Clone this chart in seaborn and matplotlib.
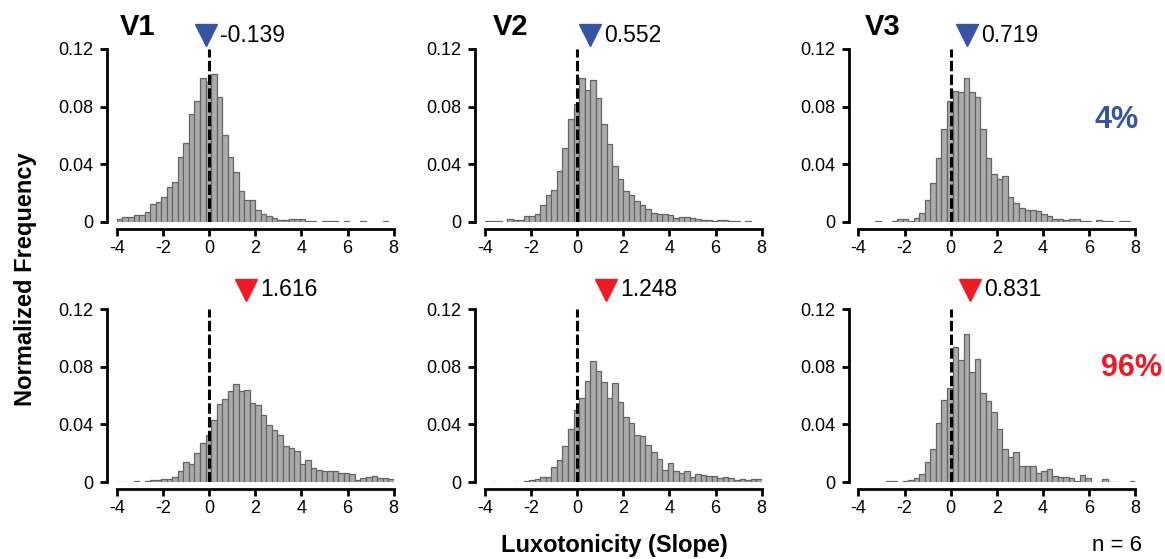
import numpy as np
import pandas as pd
import matplotlib
matplotlib.use("Agg")
import matplotlib.pyplot as plt
import seaborn as sns

# histogram grid (slope bins) and per-panel values
bin_edges = list(np.linspace(-4, 8, 51))
bin_centers = [(a + b) / 2 for a, b in zip(bin_edges[:-1], bin_edges[1:])]

areas = ["V1", "V2", "V3"]
top_means = [-0.139, 0.552, 0.719]
bottom_means = [1.616, 1.248, 0.831]
top_share = "4%"
bottom_share = "96%"
n_label = "n = 6"

v1_top = [0.002, 0.0035, 0.0037, 0.005, 0.005, 0.007, 0.0127, 0.014, 0.017, 0.024,
          0.028, 0.045, 0.055, 0.075, 0.084, 0.100, 0.097, 0.1025, 0.087, 0.060,
          0.045, 0.035, 0.0215, 0.015, 0.015, 0.008, 0.0053, 0.004, 0.003, 0.0014,
          0.0014, 0.002, 0.002, 0.002, 0.001, 0.001, 0, 0.0008, 0.0008, 0.001,
          0, 0.0004, 0, 0, 0.0004, 0, 0, 0, 0.0004, 0]
v2_top = [0.0005, 0.0005, 0.0005, 0, 0.0023, 0.0016, 0.0016, 0.004, 0.004, 0.0053,
          0.0116, 0.0187, 0.022, 0.0354, 0.0516, 0.0717, 0.0815, 0.100, 0.0914, 0.0988,
          0.086, 0.068, 0.0544, 0.039, 0.0296, 0.0215, 0.0185, 0.0146, 0.012, 0.0093,
          0.0065, 0.0053, 0.0053, 0.0046, 0.003, 0.0037, 0.0032, 0.003, 0.0023, 0.0016,
          0.0012, 0.0005, 0.0012, 0.0012, 0.0007, 0.0005, 0, 0.0005, 0, 0]
v3_top = [0, 0, 0, 0.0004, 0, 0, 0.0005, 0.0018, 0.0018, 0.001,
          0.003, 0.0065, 0.015, 0.0273, 0.0447, 0.0643, 0.084, 0.091, 0.090, 0.100,
          0.090, 0.087, 0.0648, 0.0442, 0.0336, 0.030, 0.032, 0.0176, 0.013, 0.010,
          0.0083, 0.0083, 0.0074, 0.0053, 0.0042, 0.0018, 0.0018, 0.0012, 0.0023, 0.0018,
          0.0007, 0.0005, 0, 0.0016, 0.0007, 0.0007, 0, 0.0005, 0.0005, 0]
v1_bottom = [0.0003, 0.0003, 0, 0.0005, 0, 0.0005, 0.0012, 0.0012, 0.0019, 0.0021,
             0.0037, 0.0076, 0.0139, 0.0123, 0.0199, 0.0269, 0.0329, 0.0428, 0.0544, 0.0576,
             0.0634, 0.0678, 0.0632, 0.0639, 0.0546, 0.0532, 0.0465, 0.0396, 0.0361, 0.0324,
             0.0252, 0.0234, 0.0218, 0.0125, 0.015, 0.0095, 0.0083, 0.0074, 0.0079, 0.0079,
             0.006, 0.006, 0.0053, 0.0012, 0.0028, 0.0032, 0.0044, 0.0025, 0.0025, 0.0019]
v2_bottom = [0, 0.0003, 0, 0, 0, 0.0003, 0, 0.0005, 0.0012, 0.0019,
             0.0037, 0.0037, 0.0106, 0.015, 0.025, 0.037, 0.050, 0.0586, 0.070, 0.0838,
             0.0773, 0.0697, 0.0586, 0.0685, 0.0558, 0.0449, 0.041, 0.0324, 0.032, 0.026,
             0.0208, 0.0162, 0.0086, 0.0132, 0.0079, 0.0065, 0.0079, 0.0032, 0.0053, 0.0046,
             0.0039, 0.0044, 0.0028, 0.0032, 0.0025, 0.0016, 0.0023, 0.0016, 0.0023, 0.0019]
v3_bottom = [0, 0, 0, 0, 0, 0.0005, 0.0005, 0, 0.0005, 0.0012,
             0.003, 0.0056, 0.014, 0.0227, 0.0407, 0.057, 0.065, 0.0937, 0.0845, 0.1025,
             0.0766, 0.0856, 0.0616, 0.0562, 0.0484, 0.0366, 0.0227, 0.0176, 0.0208, 0.0113,
             0.0113, 0.0113, 0.0065, 0.0079, 0.0088, 0.0044, 0.0037, 0.0032, 0.0025, 0.0007,
             0.0051, 0.0028, 0, 0.0003, 0.0019, 0.0003, 0.0003, 0, 0, 0.0007]

x_ticks = [-4, -2, 0, 2, 4, 6, 8]
y_ticks = [0, 0.04, 0.08, 0.12]
y_ticklabels = ["0", "0.04", "0.08", "0.12"]

blue = "#3953a4"
red = "#ed1c24"

sns.set_theme(style="ticks")
plt.rcParams["font.family"] = ["Liberation Sans", "DejaVu Sans"]
plt.rcParams["axes.linewidth"] = 2
plt.rcParams["xtick.major.width"] = 2
plt.rcParams["ytick.major.width"] = 2
plt.rcParams["xtick.major.size"] = 5
plt.rcParams["ytick.major.size"] = 5
plt.rcParams["xtick.color"] = "black"
plt.rcParams["ytick.color"] = "black"
plt.rcParams["xtick.labelcolor"] = "black"
plt.rcParams["ytick.labelcolor"] = "black"
plt.rcParams["axes.edgecolor"] = "black"
plt.rcParams["text.color"] = "black"


def draw_panel(ax, heights, mean, color, marker_y):
    df = pd.DataFrame({"slope": bin_centers, "freq": heights})
    sns.histplot(data=df, x="slope", weights="freq", bins=bin_edges, ax=ax,
                 color="#ababab", edgecolor="#646464", linewidth=0.9, alpha=1)
    # empty bins are not drawn
    for p in ax.patches:
        if p.get_height() <= 0:
            p.set_visible(False)
    ax.axvline(0, ymin=0, ymax=1, color="black", lw=2.2,
               linestyle=(0, (3.4, 1.1)), zorder=5)
    ax.set_xlim(-4, 8)
    ax.set_ylim(0, 0.12)
    ax.set_xticks(x_ticks)
    ax.set_xticklabels([str(t) for t in x_ticks])
    ax.set_yticks(y_ticks)
    ax.set_yticklabels(y_ticklabels)
    ax.tick_params(axis="x", labelsize=13, pad=3)
    ax.tick_params(axis="y", labelsize=13, pad=5)
    ax.set_xlabel("")
    ax.set_ylabel("")
    sns.despine(ax=ax, offset={"left": 7, "bottom": 5}, trim=True)
    trans = ax.get_xaxis_transform()
    ax.plot([mean], [marker_y], marker="v", markersize=16, color=color,
            transform=trans, clip_on=False, zorder=6)
    ax.annotate(f"{mean:.3f}", xy=(mean, marker_y), xycoords=trans,
                xytext=(10, 0), textcoords="offset points",
                ha="left", va="center", fontsize=16.5, color="black",
                annotation_clip=False)


fig = plt.figure(figsize=(11.65, 5.59), dpi=100)
lefts = [0.1004, 0.4163, 0.7369]
width = 0.2375
height = 0.3095
top_data = [v1_top, v2_top, v3_top]
bottom_data = [v1_bottom, v2_bottom, v3_bottom]

for i in range(3):
    ax_t = fig.add_axes([lefts[i], 0.6029, width, height])
    draw_panel(ax_t, top_data[i], top_means[i], blue, 1.08)
    ax_b = fig.add_axes([lefts[i], 0.1377, width, height])
    draw_panel(ax_b, bottom_data[i], bottom_means[i], red, 1.11)

for x, name in zip([0.103, 0.423, 0.7425], areas):
    fig.text(x, 0.952, name, fontsize=21, fontweight="bold", ha="left", va="center")

fig.text(0.9588, 0.785, top_share, fontsize=22, fontweight="bold", color=blue,
         ha="center", va="center")
fig.text(0.971, 0.342, bottom_share, fontsize=22, fontweight="bold", color=red,
         ha="center", va="center")
fig.text(0.0215, 0.501, "Normalized Frequency", fontsize=17, fontweight="bold",
         rotation=90, ha="center", va="center")
fig.text(0.527, 0.025, "Luxotonicity (Slope)", fontsize=17, fontweight="bold",
         ha="center", va="center")
fig.text(0.980, 0.025, n_label, fontsize=16, ha="right", va="center")

fig.savefig("out.png", dpi=100)
